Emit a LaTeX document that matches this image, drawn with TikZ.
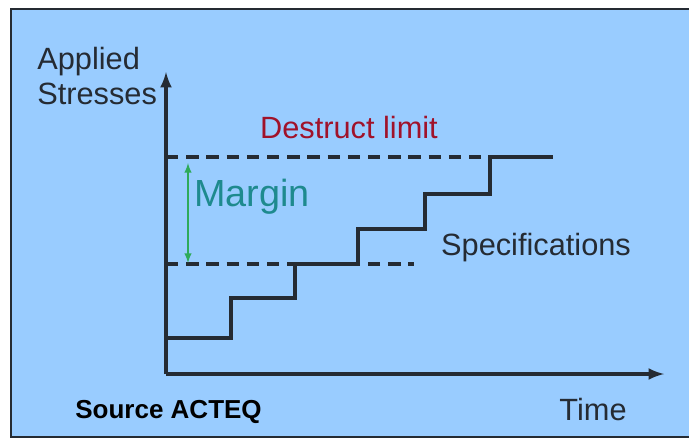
\documentclass[tikz,border=0pt]{standalone}
\usepackage{fontspec}
\setmainfont{Liberation Sans}
\definecolor{panelblue}{HTML}{99CCFF}
\definecolor{inkgray}{HTML}{252B33}
\definecolor{limitred}{HTML}{A0122A}
\definecolor{margincyan}{HTML}{1E8A8E}
\definecolor{arrowgreen}{HTML}{2FAA5A}
\tikzset{
    axisline/.style = {inkgray, line width=2pt},
    levelline/.style = {inkgray, line width=2.2pt, dash pattern=on 7pt off 4.5pt},
    stairline/.style = {inkgray, line width=2.2pt},
    textlabel/.style = {inner sep=0pt, text=inkgray, font=\fontsize{17.5}{20}\selectfont}
}
\begin{document}
\begin{tikzpicture}[x = 0.02cm, y = -0.02cm]
                \useasboundingbox (0, 0) rectangle (689, 440);
                \fill [white] (0, 0) rectangle (689, 440);
                \fill [panelblue] (11, 9) rectangle (689, 437);
                \draw [inkgray, line width=1.4pt] (689, 9) -- (11, 9) -- (11, 437) -- (689, 437);

                \coordinate (origin) at (166, 374);
                \coordinate (ytop) at (166, 72);
                \coordinate (xend) at (664, 374);
                \draw [axisline, -latex] (origin) -- (ytop);
                \draw [axisline, -latex] (origin) -- (xend);

                \coordinate (limitstart) at (166, 157);
                \coordinate (limitend) at (486, 157);
                \coordinate (specstart) at (166, 264);
                \coordinate (specend) at (414, 264);
                \draw [levelline] (limitstart) -- (limitend);
                \draw [levelline] (specstart) -- (specend);

                \draw [stairline] (166, 338) -- (231, 338) -- (231, 298) -- (295, 298)
                    -- (295, 264) -- (358, 264) -- (358, 229) -- (425, 229)
                    -- (425, 194) -- (490, 194) -- (490, 157) -- (553, 157);

                \coordinate (margintop) at (188, 163);
                \coordinate (marginbottom) at (188, 263);
                \draw [arrowgreen, line width=0.9pt, latex-latex] (margintop) -- (marginbottom);

                \node [textlabel, anchor=west, text=margincyan, font=\fontsize{21.5}{24}\selectfont] (margin) at (194, 197) {Margin};
                \node [textlabel, text=limitred] (limit) at (349, 128) {Destruct limit};
                \node [textlabel] (spec) at (536, 248) {Specifications};
                \node [textlabel, anchor=north west, align=left] (yname) at (37, 47) {Applied\\Stresses};
                \node [textlabel, anchor=base east, font=\fontsize{17.5}{20}\selectfont] (xname) at (627, 420) {Time};
                \node [textlabel, anchor=base west, text=black, font=\bfseries\fontsize{14.8}{17}\selectfont] (source) at (75, 418) {Source ACTEQ};
            \end{tikzpicture}
\end{document}
